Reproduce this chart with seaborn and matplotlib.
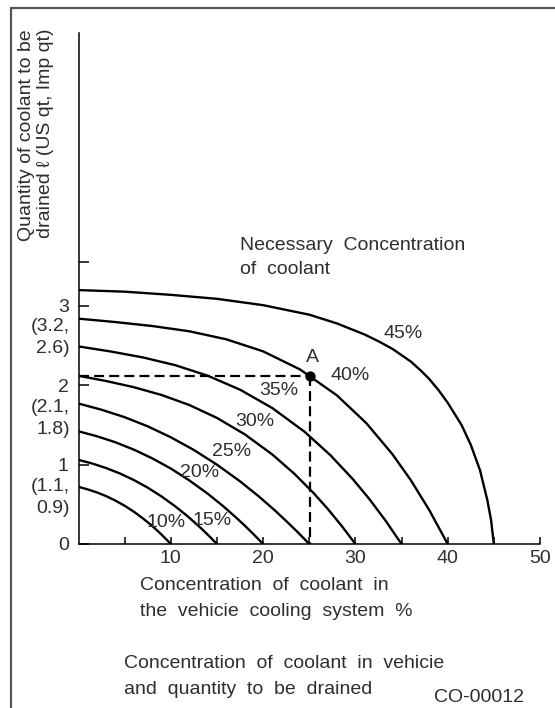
import matplotlib
matplotlib.use("Agg")
import matplotlib.pyplot as plt
from matplotlib.lines import Line2D
import numpy as np
import pandas as pd
import seaborn as sns

# ---- data ----
curve_names = ["10%", "15%", "20%", "25%", "30%", "35%", "40%", "45%"]

x10 = [0, 1, 2, 3, 4, 5, 6, 7, 7.8, 8.5, 9, 9.5, 10]
y10 = [0.72, 0.688, 0.650, 0.603, 0.547, 0.482, 0.407, 0.321, 0.245, 0.173, 0.118, 0.060, 0]

x15 = [0, 1.5, 3, 4.5, 6, 7.5, 9, 10.5, 11.7, 12.75, 13.5, 14.25, 15]
y15 = [1.06, 1.014, 0.957, 0.888, 0.806, 0.710, 0.599, 0.473, 0.361, 0.255, 0.174, 0.089, 0]

x20 = [0, 2, 4, 6, 8, 10, 12, 14, 15.6, 17, 18, 19, 20]
y20 = [1.42, 1.358, 1.282, 1.189, 1.079, 0.951, 0.802, 0.634, 0.484, 0.341, 0.233, 0.119, 0]

x25 = [0, 2.5, 5, 7.5, 10, 12.5, 15, 17.5, 19.5, 21.25, 22.5, 23.75, 25]
y25 = [1.77, 1.692, 1.598, 1.483, 1.345, 1.185, 1.000, 0.790, 0.603, 0.426, 0.290, 0.149, 0]

x30 = [0, 3, 6, 9, 12, 15, 18, 21, 23.4, 25.5, 27, 28.5, 30]
y30 = [2.12, 2.054, 1.976, 1.878, 1.752, 1.589, 1.383, 1.128, 0.884, 0.638, 0.443, 0.230, 0]

x35 = [0, 3.5, 7, 10.5, 14, 17.5, 21, 24.5, 27.3, 29.75, 31.5, 33.25, 35]
y35 = [2.49, 2.426, 2.351, 2.253, 2.121, 1.945, 1.713, 1.414, 1.118, 0.814, 0.568, 0.297, 0]

x40 = [0, 4, 8, 12, 16, 20, 24, 28, 31.2, 34, 36, 38, 40]
y40 = [2.84, 2.797, 2.747, 2.681, 2.580, 2.428, 2.200, 1.873, 1.521, 1.133, 0.805, 0.428, 0]

x45 = [0, 5, 10, 15, 20, 25, 28, 31, 32.5, 34, 36, 37, 38, 39, 40, 41.5, 42.5, 43.5, 44.3, 44.7, 45]
y45 = [3.20, 3.18, 3.14, 3.09, 3.01, 2.89, 2.78, 2.64, 2.555, 2.46, 2.30, 2.195, 2.08, 1.94, 1.78,
       1.50, 1.25, 0.93, 0.55, 0.30, 0]

curve_x = [x10, x15, x20, x25, x30, x35, x40, x45]
curve_y = [y10, y15, y20, y25, y30, y35, y40, y45]

# curve label positions (x, y)
label_x = [9.5, 14.5, 13.1, 16.6, 19.1, 21.7, 29.4, 35.2]
label_y = [0.27, 0.30, 0.90, 1.16, 1.54, 1.94, 2.12, 2.65]

point_a = (25.1, 2.12)

xtick_major = [10, 20, 30, 40, 50]
xtick_minor = [5, 15, 25, 35, 45]
ytick_vals = [0, 1, 2, 3, 3.55]
ytick_labels = ["0", "1", "2", "3", ""]
ypair_vals = [0.59, 1.58, 2.6]
ypair_labels = ["(1.1,\n0.9)", "(2.1,\n1.8)", "(3.2,\n2.6)"]

# ---- styling ----
sns.set_style("white")
plt.rcParams["font.family"] = ["Liberation Sans", "DejaVu Sans"]
TXT = "#2e2e2e"
FS = 14

W, H = 555, 708
fig = plt.figure(figsize=(W / 100, H / 100), dpi=100)


def fx(px):
    return px / W


def fy(py):
    return 1 - py / H


ax = fig.add_axes([fx(78.5), fy(544), fx(540) - fx(78.5), fy(33) - fy(544)])

frames = []
for name, xs, ys in zip(curve_names, curve_x, curve_y):
    frames.append(pd.DataFrame({"x": xs, "y": ys, "curve": name}))
df = pd.concat(frames, ignore_index=True)

sns.lineplot(data=df, x="x", y="y", hue="curve", palette=["black"] * len(curve_names),
             estimator=None, sort=False, legend=False, linewidth=1.7, ax=ax)

# dashed guide lines to point A
dash = (0, (4.5, 2.3))
ax.plot([0, point_a[0]], [point_a[1], point_a[1]], color="black", lw=1.6, ls=dash)
ax.plot([point_a[0], point_a[0]], [point_a[1], 0], color="black", lw=1.6, ls=dash)
sns.scatterplot(x=[point_a[0]], y=[point_a[1]], color="black", s=55, edgecolor="black",
                linewidth=0, zorder=5, ax=ax)
ax.text(point_a[0] + 0.2, 2.35, "A", ha="center", va="center", fontsize=FS, color=TXT)

for name, lx, ly in zip(curve_names, label_x, label_y):
    ax.text(lx, ly, name, ha="center", va="center", fontsize=FS, color=TXT)

ax.set_xlim(0, 50)
ax.set_ylim(0, 6.44)
for s in ["top", "right"]:
    ax.spines[s].set_visible(False)
for s in ["left", "bottom"]:
    ax.spines[s].set_color("black")
    ax.spines[s].set_linewidth(1.1)

ax.set_xticks(xtick_major)
ax.set_xticklabels([str(v) for v in xtick_major])
ax.set_xticks(xtick_minor, minor=True)
ax.set_yticks(ytick_vals)
ax.set_yticklabels(ytick_labels)
ax.tick_params(axis="x", which="both", direction="in", length=5, width=1.1, bottom=True,
               labelsize=FS, labelcolor=TXT, pad=4, color="black")
ax.tick_params(axis="y", which="both", direction="in", length=7.5, width=1.1, left=True,
               labelsize=FS, labelcolor=TXT, pad=7, color="black")
ax.set_xlabel("")
ax.set_ylabel("")
ax.grid(False)

ytr = ax.get_yaxis_transform()
for v, lab in zip(ypair_vals, ypair_labels):
    ax.text(-0.019, v, lab, transform=ytr, ha="right", va="center", fontsize=FS,
            color=TXT, linespacing=1.4, multialignment="right")

# free text
fig.text(fx(36), fy(29), "Quantity of coolant to be\ndrained \u2113 (US qt, Imp qt)",
         rotation=90, ha="center", va="top", multialignment="right", fontsize=FS,
         color=TXT, linespacing=1.15)
fig.text(fx(240), fy(246), "Necessary  Concentration", ha="left", va="center", fontsize=FS, color=TXT)
fig.text(fx(240), fy(270), "of  coolant", ha="left", va="center", fontsize=FS, color=TXT)
fig.text(fx(140), fy(585), "Concentration  of  coolant  in", ha="left", va="center", fontsize=FS, color=TXT)
fig.text(fx(140), fy(611), "the  vehicie  cooling  system  %", ha="left", va="center", fontsize=FS, color=TXT)
fig.text(fx(124), fy(664), "Concentration  of  coolant  in  vehicie", ha="left", va="center", fontsize=FS, color=TXT)
fig.text(fx(124), fy(689), "and  quantity  to  be  drained", ha="left", va="center", fontsize=FS, color=TXT)
fig.text(fx(524), fy(697), "CO-00012", ha="right", va="center", fontsize=FS, color=TXT)

# frame lines (left and top)
fig.add_artist(Line2D([fx(10.5), fx(10.5)], [0, fy(7.5)], transform=fig.transFigure,
                      color="#555555", lw=1.6))
fig.add_artist(Line2D([fx(10.5), 1], [fy(7.5), fy(7.5)], transform=fig.transFigure,
                      color="#555555", lw=1.6))

fig.savefig("out.png", dpi=100)
